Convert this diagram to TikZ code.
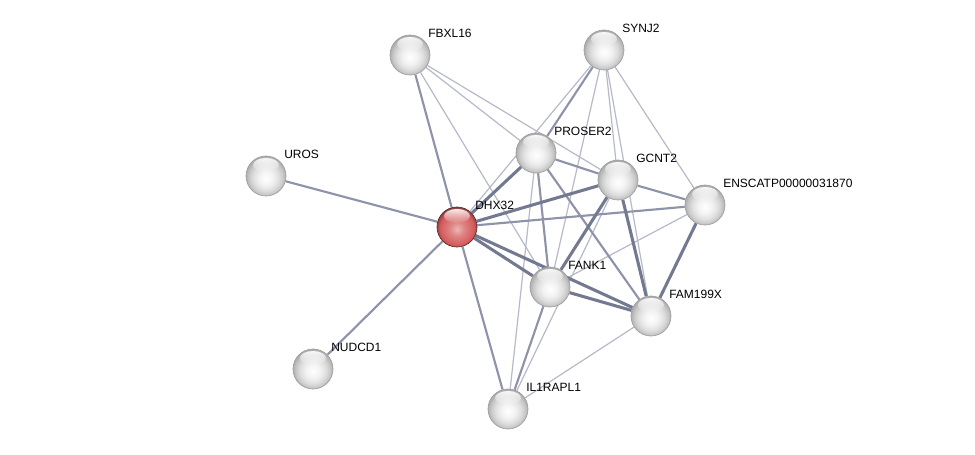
\documentclass[tikz,border=0pt]{standalone}
\usepackage{fontspec}
\setmainfont{Liberation Sans}
\usetikzlibrary{calc, backgrounds, fadings}
\definecolor{link}{HTML}{8E93AA}
\definecolor{linkdark}{HTML}{737991}
\definecolor{query}{HTML}{D45C5C}

\pgfdeclareradialshading{greyball}{\pgfpoint{0bp}{-3bp}}{%
  color(0bp)=(white); color(9bp)=(gray!10); color(16bp)=(gray!25);
  color(21bp)=(gray!42); color(25bp)=(gray!62); color(28bp)=(gray!75); color(50bp)=(gray!75)}
\pgfdeclareradialshading{redball}{\pgfpoint{0bp}{-3bp}}{%
  color(0bp)=(query!45!white); color(9bp)=(query!75!white); color(16bp)=(query!90!white);
  color(21bp)=(query); color(25bp)=(query!75!black); color(28bp)=(query!55!black); color(50bp)=(query!55!black)}

\begin{document}
\begin{tikzpicture}[
  x=0.75pt, y=-0.75pt,
  ball/.style={circle, shading=greyball, draw=gray!75, line width=0.5pt,
    minimum size=30pt, inner sep=0pt},
  hit/.style={ball, shading=redball, draw=query!45!black},
  lbl/.style={anchor=base west, font=\fontsize{9}{10}\selectfont, inner sep=0pt},
  weakline/.style={link!65, line width=0.9pt},
  midline/.style={link, line width=1.6pt},
  strongline/.style={linkdark, line width=2.3pt},
]
\useasboundingbox (0,0) rectangle (975,454);

% ---- proteins, at their pixel positions ----
\node[ball] (fbxl16)  at (410,55)  {};
\node[ball] (synj2)   at (604,50)  {};
\node[ball] (uros)    at (266,176) {};
\node[ball] (proser2) at (536,153) {};
\node[ball] (gcnt2)   at (618,180) {};
\node[ball] (enscatp) at (705,205) {};
\node[hit]  (dhx32)   at (457,227) {};
\node[ball] (fank1)   at (550,287) {};
\node[ball] (fam199x) at (651,316) {};
\node[ball] (nudcd1)  at (313,369) {};
\node[ball] (il1rapl1) at (508,409) {};

% glossy highlight on top of each sphere
\foreach \n in {fbxl16, synj2, uros, proser2, gcnt2, enscatp, dhx32, fank1, fam199x, nudcd1, il1rapl1} {
  \fill[white, path fading=south, opacity=0.9] ($(\n)+(0,-11)$) ellipse (13 and 7);
}

% ---- names, up and right of the spheres ----
\foreach \n/\t in {fbxl16/FBXL16, synj2/SYNJ2, uros/UROS, proser2/PROSER2, gcnt2/GCNT2,
    enscatp/ENSCATP00000031870, dhx32/DHX32, fank1/FANK1, fam199x/FAM199X,
    nudcd1/NUDCD1, il1rapl1/IL1RAPL1} {
  \node[lbl] at ($(\n)+(18,-18)$) {\t};
}

% ---- interactions, behind the spheres ----
\begin{pgfonlayer}{background}
\foreach \a/\b in {synj2/dhx32, fbxl16/proser2, fbxl16/gcnt2, fbxl16/fank1,
    synj2/gcnt2, synj2/fam199x, synj2/enscatp, synj2/fank1, proser2/il1rapl1,
    gcnt2/il1rapl1, enscatp/fank1, fam199x/il1rapl1}
  \draw[weakline] (\a) -- (\b);
\foreach \a/\b in {dhx32/uros, dhx32/nudcd1, dhx32/fbxl16, dhx32/il1rapl1,
    dhx32/enscatp, synj2/proser2, proser2/gcnt2, proser2/fank1, proser2/fam199x,
    gcnt2/enscatp, fank1/il1rapl1}
  \draw[midline] (\a) -- (\b);
\foreach \a/\b in {dhx32/proser2, dhx32/gcnt2, dhx32/fank1, dhx32/fam199x,
    gcnt2/fank1, gcnt2/fam199x, enscatp/fam199x, fank1/fam199x}
  \draw[strongline] (\a) -- (\b);
\end{pgfonlayer}

\end{tikzpicture}
\end{document}
